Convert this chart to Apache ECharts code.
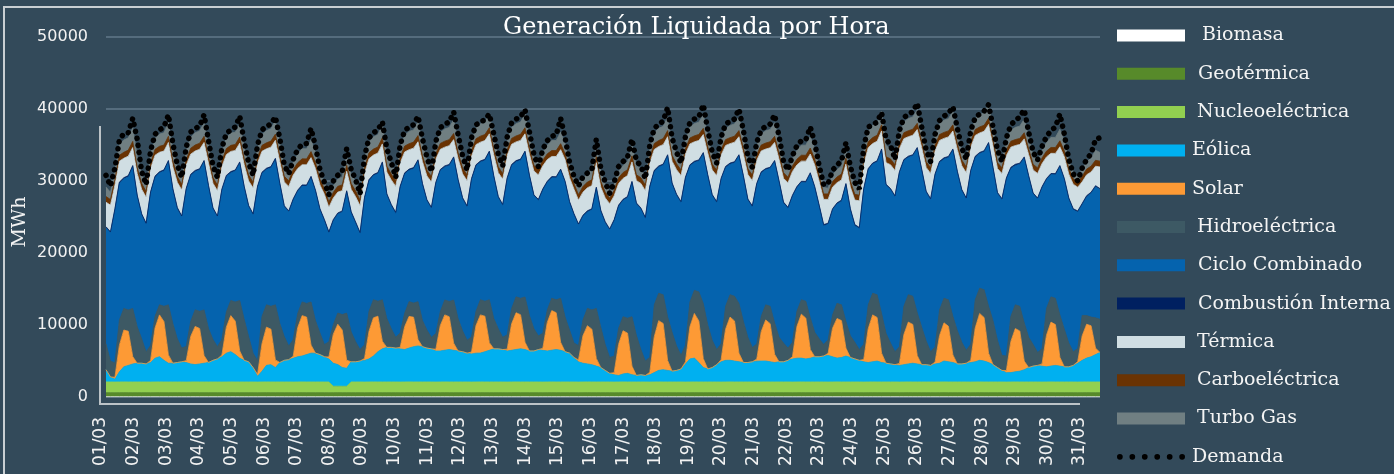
<!DOCTYPE html>
<html>
<head>
<meta charset="utf-8">
<script src="https://cdn.jsdelivr.net/npm/echarts@6/dist/echarts.min.js"></script>
<style>
html, body { margin: 0; padding: 0; background: #334a5a; }
#chart { width: 1394px; height: 474px; }
</style>
</head>
<body>
<div id="chart"></div>
<script>
// eje x: 28 dias con datos (8 lecturas por dia) y 31 etiquetas del eje
const dayNames = ['01/03','02/03','03/03','04/03','05/03','06/03','07/03','08/03','09/03','10/03','11/03','12/03','13/03','14/03',
  '15/03','16/03','17/03','18/03','19/03','20/03','21/03','22/03','23/03','24/03','25/03','26/03','27/03','28/03'];
const hours = ['01:00','04:00','07:00','10:00','13:00','16:00','19:00','22:00'];
const tickLabels = ['01/03','02/03','03/03','04/03','05/03','06/03','07/03','08/03','09/03','10/03','11/03','12/03','13/03','14/03','15/03','16/03',
  '17/03','18/03','19/03','20/03','21/03','22/03','23/03','24/03','25/03','26/03','27/03','28/03','29/03','30/03','31/03'];

// MWh, una fila por dia
const biomasa = [
  [30,30,30,30,30,30,30,30],[30,30,30,30,30,30,30,30],[30,30,30,30,30,30,30,30],[30,30,30,30,30,30,30,30],
  [30,30,30,30,30,30,30,30],[30,30,30,30,30,30,30,30],[30,30,30,30,30,30,30,30],[30,30,30,30,30,30,30,30],
  [30,30,30,30,30,30,30,30],[30,30,30,30,30,30,30,30],[30,30,30,30,30,30,30,30],[30,30,30,30,30,30,30,30],
  [30,30,30,30,30,30,30,30],[30,30,30,30,30,30,30,30],[30,30,30,30,30,30,30,30],[30,30,30,30,30,30,30,30],
  [30,30,30,30,30,30,30,30],[30,30,30,30,30,30,30,30],[30,30,30,30,30,30,30,30],[30,30,30,30,30,30,30,30],
  [30,30,30,30,30,30,30,30],[30,30,30,30,30,30,30,30],[30,30,30,30,30,30,30,30],[30,30,30,30,30,30,30,30],
  [30,30,30,30,30,30,30,30],[30,30,30,30,30,30,30,30],[30,30,30,30,30,30,30,30],[30,30,30,30,30,30,30,30]
];
const geotermica = [
  [560,560,550,560,570,560,560,560],[560,560,550,560,570,560,560,560],[560,560,550,560,570,560,560,560],[560,560,550,560,570,560,560,560],
  [560,560,550,560,570,560,560,560],[560,560,550,560,570,560,560,560],[560,560,550,560,570,560,560,560],[560,560,550,560,570,560,560,560],
  [560,560,550,560,570,560,560,560],[560,560,550,560,570,560,560,560],[560,560,550,560,570,560,560,560],[560,560,550,560,570,560,560,560],
  [560,560,550,560,570,560,560,560],[560,560,550,560,570,560,560,560],[560,560,550,560,570,560,560,560],[560,560,550,560,570,560,560,560],
  [560,560,550,560,570,560,560,560],[560,560,550,560,570,560,560,560],[560,560,550,560,570,560,560,560],[560,560,550,560,570,560,560,560],
  [560,560,550,560,570,560,560,560],[560,560,550,560,570,560,560,560],[560,560,550,560,570,560,560,560],[560,560,550,560,570,560,560,560],
  [560,560,550,560,570,560,560,560],[560,560,550,560,570,560,560,560],[560,560,550,560,570,560,560,560],[560,560,550,560,570,560,560,560]
];
const nucleo = [
  [1500,1500,1500,1500,1500,1500,1500,1500],[1500,1500,1500,1500,1500,1500,1500,1500],[1500,1500,1500,1500,1500,1500,1500,1500],
  [1500,1500,1500,1500,1500,1500,1500,1500],[1500,1500,1500,1500,1500,1500,1500,1500],[1500,1500,1500,1500,1500,1500,1500,1500],
  [1500,1500,1500,900,900,900,900,1500],[1500,1500,1500,1500,1500,1500,1500,1500],[1500,1500,1500,1500,1500,1500,1500,1500],
  [1500,1500,1500,1500,1500,1500,1500,1500],[1500,1500,1500,1500,1500,1500,1500,1500],[1500,1500,1500,1500,1500,1500,1500,1500],
  [1500,1500,1500,1500,1500,1500,1500,1500],[1500,1500,1500,1500,1500,1500,1500,1500],[1500,1500,1500,1500,1500,1500,1500,1500],
  [1500,1500,1500,1500,1500,1500,1500,1500],[1500,1500,1500,1500,1500,1500,1500,1500],[1500,1500,1500,1500,1500,1500,1500,1500],
  [1500,1500,1500,1500,1500,1500,1500,1500],[1500,1500,1500,1500,1500,1500,1500,1500],[1500,1500,1500,1500,1500,1500,1500,1500],
  [1500,1500,1500,1500,1500,1500,1500,1500],[1500,1500,1500,1500,1500,1500,1500,1500],[1500,1500,1500,1500,1500,1500,1500,1500],
  [1500,1500,1500,1500,1500,1500,1500,1500],[1500,1500,1500,1500,1500,1500,1500,1500],[1500,1500,1500,1500,1500,1500,1500,1500],
  [1500,1500,1500,1500,1500,1500,1500,1500]
];
const eolica = [
  [1700,700,400,1400,2100,2300,2500,2600],[2600,2500,2700,3300,3500,3000,2600,2600],[2700,2800,2700,2500,2400,2500,2600,2700],
  [3000,3200,3500,4000,4200,3800,3300,3000],[2800,2000,800,1500,2300,2400,2000,2700],[3000,3100,3300,3500,3600,3800,4000,4000],
  [3800,3500,3200,3200,3000,2600,2500,2800],[2800,2900,3000,3200,3600,4200,4600,4800],[4800,4700,4600,4500,4700,4900,5000,4900],
  [4700,4600,4300,4300,4400,4500,4400,4300],[4200,4000,3900,4000,4000,4200,4400,4600],[4600,4500,4300,4400,4500,4600,4500,4300],
  [4300,4500,4400,4300,4400,4500,4400,4200],[4000,3400,2800,2600,2500,2400,2200,2000],[1600,1200,1000,900,1100,1200,1000,900],
  [1000,900,1000,1300,1600,1700,1600,1500],[1600,1800,2500,3200,3300,2700,2000,1800],[2000,2400,2800,3000,3000,2900,2800,2700],
  [2700,2800,2900,2900,2900,2800,2700,2800],[2800,3000,3200,3300,3300,3200,3300,3500],[3500,3600,3700,3500,3300,3400,3600,3400],
  [3200,3000,2800,2700,2800,2900,2700,2600],[2500,2400,2300,2400,2500,2600,2500,2400],[2400,2300,2500,2600,2900,2800,2700,2500],
  [2500,2600,2700,2800,3000,2900,2700,2400],[2000,1600,1300,1300,1400,1500,1700,2000],[2200,2300,2200,2100,2200,2300,2200,2100],
  [2100,2300,2600,3000,3300,3500,3800,4100]
];
const solar = [
  [0,0,250,3670,5100,4740,1020,0],[0,0,290,4180,5800,5390,1160,0],[0,0,270,3820,5300,4930,1060,0],[0,0,250,3600,5000,4650,1000,0],
  [0,0,270,3820,5300,4930,1060,0],[0,0,280,4030,5600,5210,1120,0],[0,0,280,4030,5600,5210,1120,0],[0,0,270,3820,5300,4930,1060,0],
  [0,0,220,3170,4400,4090,880,0],[0,0,250,3530,4900,4560,980,0],[0,0,270,3820,5300,4930,1060,0],[0,0,260,3670,5100,4740,1020,0],
  [0,0,280,3960,5500,5120,1100,0],[0,0,270,3820,5300,4930,1060,0],[0,0,300,4320,6000,5580,1200,0],[0,0,350,4970,6900,6420,1380,0],
  [0,0,310,4460,6200,5770,1240,0],[0,0,300,4320,6000,5580,1200,0],[0,0,290,4100,5700,5300,1140,0],[0,0,310,4390,6100,5670,1220,0],
  [0,0,280,3960,5500,5120,1100,0],[0,0,330,4680,6500,6050,1300,0],[0,0,290,4180,5800,5390,1160,0],[0,0,270,3820,5300,4930,1060,0],
  [0,0,330,4680,6500,6050,1300,0],[0,0,300,4320,6000,5580,1200,0],[0,0,310,4390,6100,5670,1220,0],[0,0,240,3400,4700,4300,900,0]
];
const hidro = [
  [3600,2200,2000,3530,3000,2960,6680,5080],[3400,1700,2100,1630,1410,2120,6950,5510],[3300,1900,2000,2090,2310,2380,6350,4710],
  [2900,1700,2200,2110,2110,2660,7010,5710],[3500,2000,1900,3790,3110,3180,7650,5410],[3300,1900,2300,1980,1910,1900,5990,4510],
  [3000,1700,2100,1330,1560,2150,6540,4160],[2800,1600,1900,2790,2510,2080,5750,4010],[2600,1500,2000,1880,2050,1960,5270,3650],
  [2500,1600,2200,1950,2080,2120,6000,4480],[2900,1800,2100,1990,2110,2080,5950,4210],[2800,1700,2000,2140,2210,2270,6290,4910],
  [3100,1900,2100,1750,1710,1790,6110,4810],[3200,2000,2000,2190,2410,2680,6950,5610],[3600,2200,2300,2240,1960,2080,6860,5560],
  [3500,2000,2100,4440,3810,3990,6050,5400],[3400,1900,2300,3450,3210,4040,7670,6110],[3800,2100,2200,3190,3110,3430,6910,5710],
  [3500,2000,2100,2110,2110,2410,4370,3410],[2600,1700,2000,2120,2010,2340,4390,3410],[2500,1600,1900,1850,2110,2190,3710,3010],
  [2300,1500,2100,3330,3010,3160,5510,4150],[2900,1800,2300,3930,3810,3920,5950,5210],[3300,1900,2100,3590,3410,3680,5350,4610],
  [3000,1800,2200,3930,3510,3860,6510,6110],[3800,2100,2000,3490,3310,3430,5310,4210],[3000,1800,2100,3720,3510,3640,5890,5210],
  [3300,1900,1800,2840,1210,1210,4210,4610]
];
const cicloCombinado = [
  [16110,17810,21260,19010,18010,18510,19710,18130],[17210,17710,21170,19330,18330,18800,19900,18590],
  [18070,18210,21790,20280,19210,19650,20600,19740],[18140,18010,20710,18830,17750,18180,19100,18330],
  [18070,19210,24090,19880,18810,19250,20200,19340],[18030,18610,19410,16980,16100,16300,17300,17980],
  [17110,17210,15130,14450,13750,14250,16850,16550],[16480,16110,20340,18150,17240,17730,19000,17190],
  [17110,17210,20240,19340,18250,18670,19560,18880],[17960,17910,20860,19580,18470,18880,19730,19180],
  [18350,18510,21840,20200,19130,19560,20500,19680],[18220,18310,21650,19850,18770,19190,20100,19370],
  [18440,18810,19900,17720,16750,16950,17800,18720],[17710,17810,16740,14400,13400,13900,16700,16100],
  [16910,17710,18810,16950,16150,16750,18650,18250],[19520,19810,23610,18530,17530,18000,22380,20600],
  [20930,21210,23200,18900,17780,18180,20800,20740],[20090,20410,22860,19280,18130,18530,20500,20080],
  [19060,19510,22170,19930,18770,19160,22400,21570],[19430,19410,20280,17180,16300,16500,20000,20080],
  [18410,16510,16030,14600,13800,14400,19000,17500],[16210,16810,21530,18780,17940,18470,22700,20560],
  [21320,21510,24170,20230,19090,19500,22800,21790],[20650,21110,23890,20480,19360,19770,23100,22000],
  [21070,21010,24030,19780,18710,19150,22600,21140],[20380,21610,24610,20550,19360,19730,22900,22290],
  [20890,21310,22380,17900,16980,17180,20600,20800],[20010,19710,18970,15400,16500,17200,18200,18000]
];
const combustionInterna = [
  [150,150,150,150,150,150,150,150],[150,150,150,150,150,150,150,150],[150,150,150,150,150,150,150,150],[150,150,150,150,150,150,150,150],
  [150,150,150,150,150,150,150,150],[150,150,150,150,150,150,150,150],[150,150,150,150,150,150,150,150],[150,150,150,150,150,150,150,150],
  [150,150,150,150,150,150,150,150],[150,150,150,150,150,150,150,150],[150,150,150,150,150,150,150,150],[150,150,150,150,150,150,150,150],
  [150,150,150,150,150,150,150,150],[150,150,150,150,150,150,150,150],[150,150,150,150,150,150,150,150],[150,150,150,150,150,150,150,150],
  [150,150,150,150,150,150,150,150],[150,150,150,150,150,150,150,150],[150,150,150,150,150,150,150,150],[150,150,150,150,150,150,150,150],
  [150,150,150,150,150,150,150,150],[150,150,150,150,150,150,150,150],[150,150,150,150,150,150,150,150],[150,150,150,150,150,150,150,150],
  [150,150,150,150,150,150,150,150],[150,150,150,150,150,150,150,150],[150,150,150,150,150,150,150,150],[150,150,150,150,150,150,150,150]
];
const termica = [
  [3400,3700,3300,2900,2700,2700,2500,3000],[3400,3600,3200,2900,2700,2600,2500,3000],[3500,3600,3200,2800,2700,2700,2500,3100],
  [3400,3500,3100,2900,2800,2700,2600,3000],[3400,3600,3200,2900,2700,2700,2500,3000],[3300,3400,3300,3000,2800,2800,2600,3000],
  [3300,3500,3400,3000,2900,2800,2700,3100],[3500,3700,3300,2900,2700,2700,2500,3000],[3400,3600,3200,2900,2700,2700,2500,3000],
  [3300,3500,3200,2800,2600,2600,2400,2900],[3300,3500,3100,2800,2600,2600,2400,2900],[3300,3500,3100,2800,2600,2600,2400,2900],
  [3300,3400,3200,3000,2800,2800,2700,3000],[3300,3400,3300,3200,3200,3200,3400,3200],[3300,3500,3300,3000,2900,2900,2700,3100],
  [3400,3700,3200,2900,2700,2700,2500,3000],[3400,3600,3200,2900,2700,2700,2500,3000],[3400,3600,3200,2900,2700,2700,2500,3000],
  [3400,3500,3200,2900,2700,2700,2500,3000],[3300,3400,3300,3000,2800,2800,2600,3000],[3300,3500,3300,3000,2800,2800,2700,3000],
  [3400,3700,3300,2900,2700,2700,2500,3000],[3300,3500,3200,2900,2700,2700,2500,3000],[3300,3500,3200,2900,2700,2700,2500,3000],
  [3300,3500,3200,2900,2700,2700,2500,3000],[3300,3500,3100,2800,2600,2600,2500,2900],[3200,3400,3200,3000,2800,2800,2600,3000],
  [3300,3400,3300,3000,2900,2800,2700,3000]
];
const carboelectrica = [
  [800,780,790,820,830,840,850,820],[810,790,790,820,830,840,860,830],[800,780,780,810,830,840,850,820],[800,790,790,820,840,840,850,820],
  [810,780,790,820,830,840,850,820],[790,770,780,800,820,820,830,810],[780,760,760,780,800,810,830,800],[800,780,790,820,830,840,850,820],
  [810,790,790,820,830,840,860,830],[800,780,790,820,830,840,850,820],[800,790,790,820,840,840,850,820],[810,780,790,820,830,840,850,820],
  [790,770,780,800,820,820,830,810],[780,760,760,780,800,810,830,800],[790,770,770,790,810,820,840,810],[800,780,790,820,830,840,850,820],
  [810,790,790,820,830,840,860,830],[800,780,790,820,830,840,850,820],[800,790,790,820,840,840,850,820],[790,770,780,800,820,820,830,810],
  [780,760,760,780,800,810,830,800],[800,780,790,820,830,840,850,820],[810,790,790,820,830,840,860,830],[800,780,790,820,830,840,850,820],
  [800,790,790,820,840,840,850,820],[810,780,790,820,830,840,850,820],[790,770,780,800,820,820,830,810],[780,760,760,780,800,810,830,800]
];
const turboGas = [
  [1300,1000,1200,1500,1700,1700,1900,1600],[1300,1000,1200,1500,1700,1700,1900,1600],[1300,1000,1200,1500,1700,1700,1900,1600],
  [1300,1000,1200,1500,1700,1700,1900,1600],[1300,1000,1200,1500,1700,1700,1900,1600],[1200,900,1000,1200,1400,1400,1600,1400],
  [1100,900,800,900,1000,1100,1400,1200],[1300,1000,1200,1500,1700,1700,1900,1600],[1300,1000,1200,1500,1700,1700,1900,1600],
  [1300,1000,1200,1500,1700,1700,1900,1600],[1300,1000,1200,1500,1700,1700,1900,1600],[1300,1000,1200,1500,1700,1700,1900,1600],
  [1200,900,1000,1200,1400,1400,1600,1400],[1100,900,800,1000,1200,1300,1700,1300],[1100,900,800,900,1000,1100,1400,1200],
  [1300,1000,1200,1500,1700,1700,1900,1600],[1300,1000,1200,1500,1700,1700,1900,1600],[1300,1000,1200,1500,1700,1700,1900,1600],
  [1300,1000,1200,1500,1700,1700,1900,1600],[1200,900,1000,1200,1400,1400,1600,1400],[1100,900,800,900,1000,1100,1400,1200],
  [1300,1000,1200,1500,1700,1700,1900,1600],[1300,1000,1200,1500,1700,1700,1900,1600],[1300,1000,1200,1500,1700,1700,1900,1600],
  [1300,1000,1200,1500,1700,1700,1900,1600],[1300,1000,1200,1500,1700,1700,1900,1600],[1200,900,1000,1200,1400,1400,1600,1400],
  [1100,900,800,900,1000,1100,1400,1200]
];
const demanda = [
  [30800,29300,31800,35700,36600,36700,38700,35800],[31300,29500,34200,36500,37100,37500,39200,35200],
  [32200,30500,34700,36800,37300,37600,39200,35600],[32100,30500,34600,36600,37100,37500,39000,35500],
  [32500,30800,35000,37100,37600,37900,38900,35900],[32200,31000,33000,34400,35100,35200,37300,34800],
  [31600,29800,28100,30000,30800,31300,34500,31600],[30200,28200,33400,36000,36700,37100,38200,34500],
  [32600,30500,35000,37000,37500,37800,39000,35900],[33300,31300,35500,37400,37900,38200,39600,36400],
  [33500,31500,36000,37800,38200,38500,39300,36500],[33700,32100,36100,38100,38600,38900,39900,36800],
  [33700,32000,34400,35600,36200,36400,38700,36000],[32600,30600,29300,30600,31100,31600,35800,31800],
  [29800,28300,29800,32000,32700,33300,35800,32800],[32100,30300,35000,37300,37900,38300,40200,36000],
  [34000,32500,36200,38100,38600,38900,40600,37100],[34000,32500,36100,37900,38300,38600,40000,37000],
  [33400,31900,35400,37100,37600,37900,39200,36200],[32700,31500,33500,34900,35600,35700,37500,35300],
  [32100,29500,29600,31500,32200,32800,35300,32000],[29800,28900,34700,37500,37800,38200,39500,35800],
  [35000,33000,37000,38800,39300,39600,40800,37500],[34300,32700,36500,38400,39000,39400,40300,37300],
  [34600,33000,37000,38800,39300,39700,40600,37500],[34300,32700,36000,37800,38400,38900,39900,36800],
  [34000,32900,34800,36200,37000,37500,39300,36500],[33000,31000,30000,31800,33000,33800,35800,36000]
];

const cats = dayNames.flatMap(d => hours.map(h => d + ' ' + h));

var myChart = echarts.init(document.getElementById('chart'));

// serie apilada de area
function area(name, rows, color) {
    return {
        name: name,
        type: 'line',
        stack: 'gen',
        symbol: 'none',
        xAxisIndex: 0,
        yAxisIndex: 0,
        data: rows.flat(),
        itemStyle: { color: color },
        lineStyle: { color: color, width: 0.8 },
        areaStyle: { color: color, opacity: 1 },
        emphasis: { disabled: true }
    };
}

const dots = 'path://M0,3a3,3 0 1,0 6,0a3,3 0 1,0 -6,0M13,3a3,3 0 1,0 6,0a3,3 0 1,0 -6,0M26,3a3,3 0 1,0 6,0a3,3 0 1,0 -6,0' +
    'M39,3a3,3 0 1,0 6,0a3,3 0 1,0 -6,0M52,3a3,3 0 1,0 6,0a3,3 0 1,0 -6,0M65,3a3,3 0 1,0 6,0a3,3 0 1,0 -6,0';

function item(name, pad, icon) {
    let o = { name: name, textStyle: { color: '#f4f4f4', fontFamily: 'DejaVu Serif', fontSize: 19, padding: [0, 0, 0, pad] } };
    if (icon) o.icon = icon;
    return o;
}

let option = {
    backgroundColor: '#334a5a',
    animation: false,
    title: {
        text: 'Generación Liquidada por Hora',
        left: 503,
        top: 16,
        padding: 0,
        textStyle: { color: '#ffffff', fontFamily: 'DejaVu Serif', fontSize: 24, fontWeight: 'normal' }
    },
    legend: {
        orient: 'vertical',
        left: 1117,
        top: 26,
        padding: 0,
        itemWidth: 68,
        itemHeight: 12,
        itemGap: 19.3,
        icon: 'rect',
        selectedMode: false,
        itemStyle: { borderWidth: 0 },
        textStyle: { color: '#f4f4f4', fontFamily: 'DejaVu Serif', fontSize: 19 },
        data: [
            item('Biomasa', 12), item('Geotérmica', 8), item('Nucleoeléctrica', 7), item('Eólica', 2),
            item('Solar', 2), item('Hidroeléctrica', 7), item('Ciclo Combinado', 8), item('Combustión Interna', 8),
            item('Térmica', 7), item('Carboeléctrica', 7), item('Turbo Gas', 7), item('Demanda', 2, dots)
        ]
    },
    grid: [
        { left: 106, right: 294, top: 37, bottom: 77 },
        { left: 101, right: 314, top: 37, bottom: 77 }
    ],
    xAxis: [
        {
            type: 'category', gridIndex: 0, data: cats, boundaryGap: false,
            axisLine: { show: false }, axisTick: { show: false }, axisLabel: { show: false }, splitLine: { show: false }
        },
        {
            type: 'category', gridIndex: 1, data: tickLabels, boundaryGap: false,
            axisLine: { show: false }, axisTick: { show: false },
            axisLabel: { interval: 0, rotate: 90, margin: 20, color: '#f2f2f2', fontFamily: 'DejaVu Sans', fontSize: 17 }
        }
    ],
    yAxis: [
        {
            type: 'value', gridIndex: 0, min: 0, max: 50000, interval: 10000,
            axisLine: { show: false }, axisTick: { show: false },
            axisLabel: {
                margin: 18, color: '#f2f2f2', fontFamily: 'DejaVu Sans', fontSize: 16,
                formatter: function (v) { return String(v); }
            },
            splitLine: { lineStyle: { color: '#62788a', width: 1.5 } }
        },
        { type: 'value', gridIndex: 1, show: false }
    ],
    graphic: [
        { type: 'rect', silent: true, shape: { x: 4, y: 7, width: 1500, height: 600 }, style: { fill: 'none', stroke: '#c9cfd3', lineWidth: 2 } },
        { type: 'polyline', silent: true, shape: { points: [[100, 126], [100, 404], [1080, 404]] }, style: { fill: 'none', stroke: '#bcc3c7', lineWidth: 2 } },
        { type: 'text', silent: true, x: 20, y: 222, rotation: Math.PI / 2,
          style: { text: 'MWh', fill: '#f2f2f2', font: '19px "DejaVu Serif"', align: 'center', verticalAlign: 'middle' } }
    ],
    series: [
        area('Biomasa', biomasa, '#ffffff'),
        area('Geotérmica', geotermica, '#578a2a'),
        area('Nucleoeléctrica', nucleo, '#92d050'),
        area('Eólica', eolica, '#00b0f0'),
        area('Solar', solar, '#fd9a35'),
        area('Hidroeléctrica', hidro, '#3d5964'),
        area('Ciclo Combinado', cicloCombinado, '#0563ae'),
        area('Combustión Interna', combustionInterna, '#002060'),
        area('Térmica', termica, '#d0dee3'),
        area('Carboeléctrica', carboelectrica, '#6a3303'),
        area('Turbo Gas', turboGas, '#707f82'),
        {
            name: 'Demanda',
            type: 'line',
            symbol: 'none',
            xAxisIndex: 0,
            yAxisIndex: 0,
            z: 5,
            data: demanda.flat(),
            itemStyle: { color: '#000000' },
            lineStyle: { color: '#000000', width: 5.5, type: [0.1, 7], cap: 'round' },
            emphasis: { disabled: true }
        }
    ]
};

myChart.setOption(option);
</script>
</body>
</html>
